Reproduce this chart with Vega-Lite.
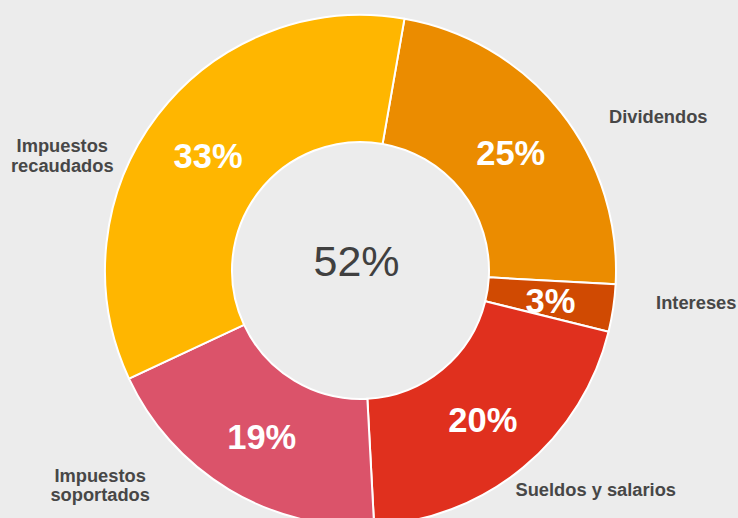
{
  "$schema": "https://vega.github.io/schema/vega-lite/v6.json",
  "width": 721,
  "height": 541,
  "autosize": {"type": "none"},
  "padding": {"left": 0, "top": 0, "right": 17, "bottom": 0},
  "background": "#ececec",
  "config": {"view": {"stroke": null}},
  "data": {
    "values": [
      {"categoria": "Dividendos", "rotulo": "Dividendos", "valor": 23.1, "etiqueta": "25%", "orden": 1},
      {"categoria": "Intereses", "rotulo": "Intereses", "valor": 3.0, "etiqueta": "3%", "orden": 2},
      {"categoria": "Sueldos y salarios", "rotulo": "Sueldos y salarios", "valor": 20.3, "etiqueta": "20%", "orden": 3},
      {"categoria": "Impuestos soportados", "rotulo": "Impuestos\nsoportados", "valor": 18.9, "etiqueta": "19%", "orden": 4},
      {"categoria": "Impuestos recaudados", "rotulo": "Impuestos\nrecaudados", "valor": 34.7, "etiqueta": "33%", "orden": 5}
    ]
  },
  "layer": [
    {
      "mark": {"type": "arc", "outerRadius": 255.5, "innerRadius": 128.5, "stroke": "#ffffff", "strokeWidth": 2},
      "encoding": {
        "theta": {"field": "valor", "type": "quantitative", "stack": true, "scale": {"range": [0.1728, 6.456]}},
        "order": {"field": "orden", "type": "ordinal"},
        "color": {
          "field": "categoria",
          "type": "nominal",
          "legend": null,
          "scale": {
            "domain": ["Dividendos", "Intereses", "Sueldos y salarios", "Impuestos soportados", "Impuestos recaudados"],
            "range": ["#eb8c00", "#d04a02", "#e0301e", "#db536a", "#ffb600"]
          }
        }
      }
    },
    {
      "mark": {"type": "text", "radius": 192, "color": "#ffffff", "fontSize": 34.5, "fontWeight": "bold", "font": "Liberation Sans", "dy": 4},
      "encoding": {
        "theta": {"field": "valor", "type": "quantitative", "stack": true},
        "order": {"field": "orden", "type": "ordinal"},
        "text": {"field": "etiqueta", "type": "nominal"}
      }
    },
    {
      "mark": {
        "type": "text",
        "radius": 300,
        "color": "#474747",
        "fontSize": 18.3,
        "fontWeight": "bold",
        "font": "Liberation Sans",
        "lineBreak": "\n",
        "lineHeight": 19.5,
        "dx": {"expr": "datum.categoria == 'Dividendos' ? 63 : datum.categoria == 'Intereses' ? 39 : datum.categoria == 'Sueldos y salarios' ? 44 : datum.categoria == 'Impuestos soportados' ? -106 : -60"},
        "dy": {"expr": "datum.categoria == 'Dividendos' ? 34 : datum.categoria == 'Intereses' ? -11 : datum.categoria == 'Sueldos y salarios' ? -11 : datum.categoria == 'Impuestos soportados' ? -51 : 59"}
      },
      "encoding": {
        "theta": {"field": "valor", "type": "quantitative", "stack": true},
        "order": {"field": "orden", "type": "ordinal"},
        "text": {"field": "rotulo", "type": "nominal"}
      }
    },
    {
      "data": {"values": [{"centro": "52%"}]},
      "mark": {"type": "text", "color": "#404040", "fontSize": 43, "font": "Liberation Sans", "dx": -4, "dy": -8},
      "encoding": {
        "text": {"field": "centro", "type": "nominal"}
      }
    }
  ]
}
